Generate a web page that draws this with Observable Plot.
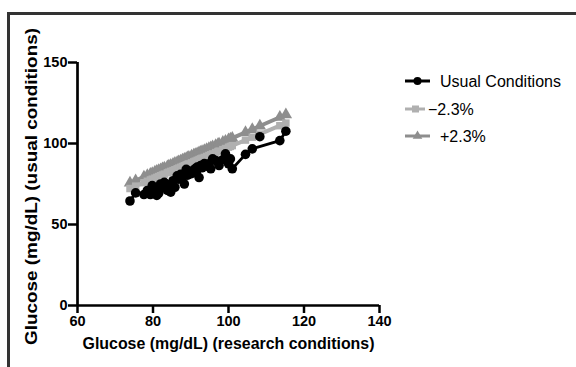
<!DOCTYPE html>
<html>
<head>
<meta charset="utf-8">
<script src="https://cdn.jsdelivr.net/npm/d3@7"></script>
<script src="https://cdn.jsdelivr.net/npm/@observablehq/plot@0.6"></script>
<style>
  html, body { margin: 0; padding: 0; background: #fff; overflow: hidden; }
  body { width: 576px; height: 367px; position: relative; font-family: "Liberation Sans", Arial, sans-serif; }
  #border { position: absolute; left: 7px; top: 12px; width: 700px; height: 500px; border-top: 3px solid #333; border-left: 3px solid #333; }
  #chart { position: absolute; left: 0; top: 0; }
  #legend { position: absolute; left: 0; top: 0; }
</style>
</head>
<body>
<div id="border"></div>
<div id="chart"></div>
<svg id="legend" width="576" height="367"></svg>
<script>
// Research-condition glucose (x) and usual-condition glucose (y), mg/dL
const researchGlucose = [73.9, 75.4, 77.6, 78.5, 79.3, 79.8, 80.5, 81.0, 81.5, 82.0, 82.5, 83.0, 83.8, 84.2, 84.7, 85.3, 85.8, 86.4, 86.8, 87.3, 87.8, 88.3, 88.8, 89.2, 89.5, 90.2, 90.8, 91.2, 91.7, 92.2, 92.6, 93.0, 93.6, 94.2, 94.8, 95.3, 95.8, 96.6, 97.2, 97.5, 98.5, 99.2, 100.0, 100.5, 101.0, 104.5, 106.3, 108.3, 113.6, 115.2];
const usualGlucose    = [64.5, 69.5, 68.5, 71.0, 68.5, 74.0, 72.0, 68.0, 69.3, 75.0, 73.0, 76.0, 71.0, 74.5, 70.0, 77.0, 73.0, 80.0, 78.0, 81.0, 79.0, 75.0, 84.0, 80.5, 83.0, 81.4, 83.5, 84.5, 85.4, 79.0, 86.4, 85.0, 87.6, 86.0, 87.5, 84.4, 90.5, 89.5, 88.5, 86.4, 90.0, 93.6, 87.5, 90.5, 84.4, 93.3, 96.7, 104.2, 101.8, 107.6];
// Limits of -2.3% and +2.3% around each research value
const minus23 = [72.2, 73.7, 75.8, 76.7, 77.5, 78.0, 78.6, 79.1, 79.6, 80.1, 80.6, 81.1, 81.9, 82.3, 82.8, 83.3, 83.8, 84.4, 84.8, 85.3, 85.8, 86.3, 86.8, 87.1, 87.4, 88.1, 88.7, 89.1, 89.6, 90.1, 90.5, 90.9, 91.4, 92.0, 92.6, 93.1, 93.6, 94.4, 95.0, 95.3, 96.2, 96.9, 97.7, 98.2, 98.7, 102.1, 103.9, 105.8, 111.0, 112.6];
const plus23  = [75.6, 77.1, 79.4, 80.3, 81.1, 81.6, 82.4, 82.9, 83.4, 83.9, 84.4, 84.9, 85.7, 86.1, 86.6, 87.3, 87.8, 88.4, 88.8, 89.3, 89.8, 90.3, 90.8, 91.3, 91.6, 92.3, 92.9, 93.3, 93.8, 94.3, 94.7, 95.1, 95.8, 96.4, 97.0, 97.5, 98.0, 98.8, 99.4, 99.7, 100.8, 101.5, 102.3, 102.8, 103.3, 106.9, 108.7, 110.8, 116.2, 117.8];
// research values whose point is not joined by the connecting line
const notConnected = [108.3];

const seriesNames = ["Usual Conditions", "\u22122.3%", "+2.3%"];
const xTicks = [60, 80, 100, 120, 140];
const yTicks = [0, 50, 100, 150];
const xTitle = "Glucose (mg/dL) (research conditions)";
const yTitle = "Glucose (mg/dL) (usual conditions)";

const usual = researchGlucose.map((x, i) => ({x, y: usualGlucose[i]}));
const usualLine = usual.filter(d => !notConnected.includes(d.x));
const lo = researchGlucose.map((x, i) => ({x, y: minus23[i]}));
const hi = researchGlucose.map((x, i) => ({x, y: plus23[i]}));

const cUsual = "#000000", cLo = "#b0b0b0", cHi = "#8e8e8e";
const font = "'Liberation Sans', Arial, sans-serif";

const plot = Plot.plot({
  width: 576, height: 367,
  marginLeft: 77, marginRight: 197, marginTop: 62, marginBottom: 62,
  style: {fontFamily: font, background: "transparent", overflow: "visible"},
  x: {domain: [60, 140]},
  y: {domain: [0, 150]},
  marks: [
    Plot.line(hi, {x: "x", y: "y", stroke: cHi, strokeWidth: 4}),
    Plot.dot(hi, {x: "x", y: "y", symbol: "triangle", r: 4.6, fill: cHi}),
    Plot.line(lo, {x: "x", y: "y", stroke: cLo, strokeWidth: 4}),
    Plot.dot(lo, {x: "x", y: "y", symbol: "square", r: 4.2, fill: cLo}),
    Plot.line(usualLine, {x: "x", y: "y", stroke: cUsual, strokeWidth: 2.8, sort: "x"}),
    Plot.dot(usual, {x: "x", y: "y", r: 4.8, fill: cUsual}),
    Plot.ruleX([60], {stroke: "#000", strokeWidth: 2.7}),
    Plot.ruleY([0], {stroke: "#000", strokeWidth: 2.7}),
    Plot.axisX({ticks: xTicks, tickSize: 8, tickPadding: 2, strokeWidth: 2.5, fontSize: 14.5, fontWeight: "bold", fill: "#000", label: null}),
    Plot.axisY({ticks: yTicks, tickSize: 9, tickPadding: 1, strokeWidth: 2.5, fontSize: 14.5, fontWeight: "bold", fill: "#000", label: null}),
    Plot.text([xTitle], {frameAnchor: "bottom", dy: 43, text: d => d, fontSize: 17, fontWeight: "bold", fill: "#000", textAnchor: "start", className: "xtitle"}),
    Plot.text([yTitle], {frameAnchor: "left", dx: -46, dy: 3, rotate: -90, text: d => d, fontSize: 17, fontWeight: "bold", fill: "#000", textAnchor: "start", className: "ytitle"})
  ]
});
document.getElementById("chart").appendChild(plot);
d3.select(plot).selectAll(".xtitle text").attr("text-anchor", "start").attr("x", -146).attr("textLength", 292).attr("lengthAdjust", "spacingAndGlyphs");
d3.select(plot).selectAll(".ytitle text").attr("text-anchor", "start").attr("x", -158).attr("textLength", 317).attr("lengthAdjust", "spacingAndGlyphs");

// Legend
const leg = d3.select("#legend");
const colors = [cUsual, cLo, cHi];
const rowsY = [81, 109, 136];
const lineEnd = [430, 425, 430];
const textX = [440, 428, 440];
seriesNames.forEach((name, i) => {
  const y = rowsY[i];
  leg.append("line").attr("x1", 405).attr("x2", lineEnd[i]).attr("y1", y).attr("y2", y)
    .attr("stroke", colors[i]).attr("stroke-width", 3);
  if (i === 0) leg.append("circle").attr("cx", 417.5).attr("cy", y).attr("r", 4).attr("fill", colors[i]);
  if (i === 1) leg.append("rect").attr("x", 412).attr("y", y - 3.5).attr("width", 7).attr("height", 7).attr("fill", colors[i]);
  if (i === 2) leg.append("path").attr("d", d3.symbol(d3.symbolTriangle, 40)()).attr("transform", `translate(417.5,${y})`).attr("fill", colors[i]);
  leg.append("text").attr("x", textX[i]).attr("y", y).attr("dy", "0.36em")
    .attr("font-family", font).attr("font-size", 16).attr("fill", "#000").text(name);
});
</script>
</body>
</html>
